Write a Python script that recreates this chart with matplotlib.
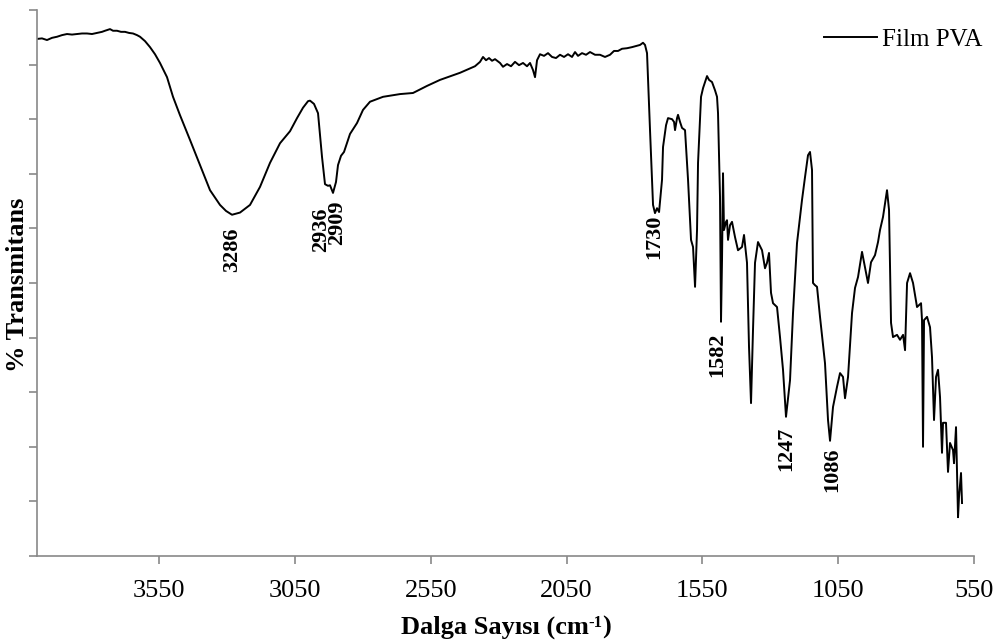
import matplotlib
matplotlib.use("Agg")
import matplotlib.pyplot as plt
import numpy as np

plt.rcParams['font.family'] = ['Liberation Serif', 'DejaVu Serif']

# FTIR spectrum of the PVA film: wavenumber (cm-1) and % transmittance
wavenumber = [
    4000.0, 3981.6, 3963.2, 3944.7, 3926.3, 3907.9, 3889.5, 3871.1, 3852.7, 3834.3,
    3815.9, 3797.5, 3779.0, 3760.6, 3749.6, 3731.2, 3720.1, 3705.4, 3690.7, 3675.9,
    3661.2, 3646.5, 3631.8, 3620.7, 3602.3, 3583.9, 3565.5, 3547.1, 3521.3, 3499.2,
    3474.0, 3436.6, 3399.8, 3363.0, 3326.2, 3304.1, 3282.0, 3252.5, 3215.7, 3178.9,
    3142.1, 3105.2, 3068.4, 3042.6, 3020.6, 3002.1, 2994.8, 2980.1, 2965.3, 2950.6,
    2939.6, 2928.6, 2921.2, 2910.1, 2899.1, 2891.7, 2880.6, 2869.6, 2847.5, 2821.7,
    2799.7, 2773.9, 2726.0, 2663.4, 2615.6, 2563.9, 2516.1, 2442.5, 2387.3, 2368.8,
    2357.8, 2346.7, 2335.7, 2324.6, 2313.6, 2295.2, 2284.2, 2269.4, 2254.7, 2240.0,
    2225.2, 2210.5, 2195.8, 2184.7, 2173.7, 2166.3, 2158.9, 2147.9, 2133.2, 2118.5,
    2103.7, 2089.0, 2074.3, 2059.5, 2044.8, 2030.1, 2019.0, 2008.0, 1993.3, 1978.5,
    1963.8, 1945.4, 1927.0, 1908.6, 1890.2, 1875.5, 1860.7, 1846.0, 1827.6, 1809.2,
    1794.5, 1779.7, 1768.7, 1761.3, 1753.9, 1742.9, 1731.8, 1724.6, 1717.1, 1709.6,
    1698.7, 1695.0, 1683.9, 1676.6, 1661.8, 1654.4, 1650.8, 1643.4, 1639.8, 1632.4,
    1625.0, 1614.0, 1602.9, 1591.9, 1584.5, 1577.1, 1569.8, 1566.1, 1555.1, 1547.6,
    1540.4, 1533.0, 1525.6, 1514.6, 1503.6, 1496.2, 1492.5, 1485.2, 1481.5, 1477.8,
    1474.1, 1470.5, 1463.1, 1459.4, 1455.7, 1448.3, 1441.0, 1429.9, 1418.9, 1404.2,
    1396.8, 1385.8, 1378.4, 1371.0, 1363.7, 1356.3, 1345.3, 1330.5, 1319.5, 1312.1,
    1304.8, 1297.4, 1290.0, 1275.3, 1264.3, 1253.2, 1242.2, 1227.4, 1216.4, 1201.7,
    1183.3, 1172.2, 1161.2, 1153.8, 1146.4, 1142.8, 1135.4, 1128.0, 1117.0, 1098.6,
    1087.5, 1080.1, 1069.1, 1054.3, 1043.3, 1032.3, 1024.9, 1013.8, 999.1, 988.1,
    977.0, 962.3, 951.3, 940.3, 929.2, 914.5, 903.4, 896.1, 885.0, 870.3,
    862.9, 855.5, 848.2, 833.4, 822.4, 811.2, 803.9, 796.5, 785.5, 774.5,
    759.8, 745.0, 741.4, 737.7, 734.0, 722.9, 711.9, 704.6, 697.2, 689.8,
    682.5, 675.1, 667.8, 664.1, 653.1, 645.7, 638.3, 627.3, 623.6, 616.2,
    608.8, 605.2, 597.8, 594.1,
]
transmittance = [
    94.7, 94.8, 94.5, 94.9, 95.1, 95.4, 95.6, 95.5, 95.6, 95.7,
    95.7, 95.6, 95.8, 96.0, 96.2, 96.5, 96.2, 96.2, 96.0, 96.0,
    95.8, 95.7, 95.4, 95.1, 94.3, 93.2, 91.9, 90.3, 87.7, 84.1,
    80.8, 76.2, 71.6, 67.0, 64.3, 63.2, 62.5, 62.9, 64.3, 67.6,
    72.0, 75.6, 77.8, 80.2, 82.1, 83.3, 83.4, 82.8, 81.1, 73.1,
    68.1, 67.8, 67.9, 66.5, 68.5, 71.6, 73.3, 74.0, 77.3, 79.3,
    81.7, 83.2, 84.1, 84.6, 84.8, 86.1, 87.2, 88.5, 89.7, 90.5,
    91.4, 90.8, 91.2, 90.7, 91.0, 90.3, 89.6, 90.1, 89.7, 90.5,
    89.9, 90.3, 89.7, 90.3, 89.0, 87.7, 90.8, 91.9, 91.6, 92.1,
    91.4, 91.2, 91.8, 91.4, 91.9, 91.4, 92.3, 91.6, 92.1, 91.8,
    92.3, 91.8, 91.8, 91.4, 91.8, 92.5, 92.5, 92.9, 93.0, 93.2,
    93.4, 93.6, 94.0, 93.6, 92.1, 78.0, 64.3, 62.8, 63.7, 63.0,
    68.9, 74.9, 78.9, 80.2, 80.0, 79.5, 78.0, 80.2, 80.8, 79.5,
    78.4, 78.0, 68.9, 57.9, 56.6, 49.3, 59.7, 72.0, 84.1, 85.7,
    86.8, 87.9, 87.2, 86.8, 85.3, 84.1, 81.1, 65.8, 42.9, 54.2,
    70.1, 59.7, 61.2, 61.5, 57.9, 60.6, 61.2, 58.4, 56.0, 56.6,
    58.8, 53.7, 38.3, 28.0, 41.4, 53.7, 57.5, 56.0, 52.7, 53.7,
    55.5, 48.2, 46.3, 45.6, 40.1, 34.1, 25.5, 32.2, 44.5, 57.3,
    65.2, 69.4, 73.4, 74.0, 70.7, 50.0, 49.6, 49.3, 43.8, 35.3,
    24.9, 21.1, 27.3, 31.0, 33.5, 32.8, 28.9, 32.8, 44.5, 49.1,
    51.1, 55.7, 52.9, 50.0, 53.8, 55.1, 57.5, 59.7, 62.1, 67.0,
    63.4, 42.7, 40.1, 40.5, 39.6, 40.5, 37.7, 50.0, 51.8, 50.0,
    45.6, 46.3, 43.2, 20.0, 43.2, 43.8, 41.9, 36.4, 24.9, 32.8,
    34.1, 29.1, 18.9, 24.4, 24.4, 15.4, 20.7, 19.4, 17.0, 23.6,
    7.1, 10.8, 15.2, 9.7,
]

# Peak labels and where each one sits (wavenumber, % transmittance of its top edge)
peak_labels = ["3286", "2936", "2909", "1730", "1582", "1247", "1086"]
peak_label_x = [3282, 2954, 2895, 1728, 1496, 1242, 1073]
peak_label_y = [60.1, 63.9, 65.2, 62.6, 41.0, 23.6, 19.8]

x_ticks = [3550, 3050, 2550, 2050, 1550, 1050, 550]
y_ticks = list(range(0, 101, 10))

W, H = 1003, 644
fig = plt.figure(figsize=(W / 100, H / 100), dpi=100)
ax = fig.add_axes([37 / W, 88 / H, 937 / W, 546 / H])

ax.plot(wavenumber, transmittance, color="black", lw=1.4, label="Film PVA")

ax.set_xlim(4000, 550)
ax.set_ylim(0, 100)
ax.set_xticks(x_ticks)
ax.set_xticklabels([str(t) for t in x_ticks])
ax.set_yticks(y_ticks)
ax.set_yticklabels([])

axis_grey = "#898989"
for side in ("top", "right"):
    ax.spines[side].set_visible(False)
for side in ("left", "bottom"):
    ax.spines[side].set_color(axis_grey)
    ax.spines[side].set_linewidth(1.2)
ax.tick_params(axis="both", direction="out", length=5.5, width=1.2,
               color=axis_grey, labelsize=19, pad=12)

for text, px, py in zip(peak_labels, peak_label_x, peak_label_y):
    ax.text(px, py, text, rotation=90, ha="center", va="top",
            fontsize=16, fontweight="bold")

# x-axis title with a raised "-1" exponent, assembled from three pieces
renderer = fig.canvas.get_renderer()
base_y = (H - 634) / H
sup_y = (H - 627) / H
parts = [
    fig.text(0, base_y, "Dalga Sayısı (cm", fontsize=19, fontweight="bold", va="baseline"),
    fig.text(0, sup_y, "-1", fontsize=12, fontweight="bold", va="baseline"),
    fig.text(0, base_y, ")", fontsize=19, fontweight="bold", va="baseline"),
]
widths = [p.get_window_extent(renderer).width for p in parts]
x_cursor = 506 - sum(widths) / 2
for p, w in zip(parts, widths):
    p.set_x(x_cursor / W)
    x_cursor += w

fig.text(18 / W, 1 - 285 / H, "% Transmitans", rotation=90,
         ha="center", va="center", fontsize=19, fontweight="bold")

ax.legend(loc="upper right", bbox_to_anchor=(982 / W, 1 - 28 / H),
          bbox_transform=fig.transFigure, frameon=False, fontsize=18,
          handlelength=2.1, handletextpad=0.2, borderpad=0, borderaxespad=0)

fig.savefig("out.png", dpi=100)
